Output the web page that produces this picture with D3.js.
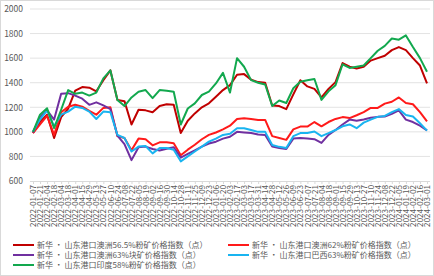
<!DOCTYPE html>
<html>
<head>
<meta charset="utf-8">
<script src="https://cdn.jsdelivr.net/npm/d3@7/dist/d3.min.js"></script>
<style>
  body { margin: 0; background: #fff; }
  svg text { font-family: "Noto Sans CJK SC", "Liberation Sans", sans-serif; fill: #595959; }
</style>
</head>
<body>
<svg id="chart" width="434" height="276"></svg>
<script>
// x categories (every other week)
const dates = [
  '2022-01-07','2022-01-21','2022-02-04','2022-02-18','2022-03-04','2022-03-18','2022-04-01','2022-04-15',
  '2022-04-29','2022-05-13','2022-05-27','2022-06-10','2022-06-24','2022-07-08','2022-07-22','2022-08-05',
  '2022-08-19','2022-09-02','2022-09-16','2022-09-30','2022-10-14','2022-10-28','2022-11-11','2022-11-25',
  '2022-12-09','2022-12-23','2023-01-06','2023-01-20','2023-02-03','2023-02-17','2023-03-03','2023-03-17',
  '2023-03-31','2023-04-14','2023-04-28','2023-05-12','2023-05-26','2023-06-09','2023-06-23','2023-07-07',
  '2023-07-21','2023-08-04','2023-08-18','2023-09-01','2023-09-15','2023-09-29','2023-10-13','2023-10-27',
  '2023-11-10','2023-11-24','2023-12-08','2023-12-22','2024-01-05','2024-01-19','2024-02-02','2024-02-16',
  '2024-03-01'
];

const yTicks = [600, 800, 1000, 1200, 1400, 1600, 1800, 2000];

const au565 = [990,1080,1140,950,1120,1190,1335,1365,1360,1330,1420,1500,1260,1250,1060,1180,
  1175,1160,1210,1225,1220,990,1090,1150,1200,1232,1285,1340,1380,1465,1470,1425,
  1405,1400,1215,1210,1185,1305,1420,1370,1350,1280,1350,1405,1560,1530,1515,1530,
  1580,1600,1620,1665,1690,1665,1600,1540,1394];

const au62 = [990,1060,1130,975,1160,1205,1220,1205,1170,1140,1195,1200,965,950,850,945,
  940,890,915,915,908,810,855,895,940,975,995,1020,1050,1105,1110,1105,
  1097,1097,965,950,935,1020,1043,1043,1080,1045,1080,1105,1120,1112,1135,1160,
  1195,1195,1230,1245,1280,1235,1225,1160,1085];

const au63lump = [995,1120,1175,1100,1310,1315,1295,1270,1220,1240,1215,1185,970,900,770,875,
  880,860,848,862,875,790,820,850,880,905,920,945,960,1000,995,990,
  978,975,880,868,860,945,950,945,940,910,975,1015,1060,1100,1090,1100,
  1115,1122,1124,1146,1175,1100,1080,1050,1012];

const br63 = [1003,1100,1175,1045,1140,1165,1205,1195,1165,1105,1165,1160,975,950,840,880,
  885,825,868,868,855,760,800,840,880,920,945,975,985,1030,1030,1015,
  1000,1000,893,878,868,965,990,990,1003,965,990,1015,1045,1060,1030,1075,
  1100,1122,1130,1160,1185,1138,1125,1070,1010];

const in58 = [1000,1140,1192,1030,1180,1340,1310,1320,1295,1320,1435,1500,1260,1210,1280,1327,
  1340,1275,1340,1335,1327,1060,1190,1232,1300,1327,1394,1480,1320,1600,1530,1421,
  1400,1385,1210,1255,1235,1355,1408,1420,1430,1260,1330,1380,1550,1520,1530,1540,
  1600,1660,1700,1760,1750,1785,1690,1600,1489];

const seriesNames = [
  '新华 · 山东港口澳洲56.5%粉矿价格指数（点）',
  '新华 · 山东港口澳洲62%粉矿价格指数（点）',
  '新华 · 山东港口澳洲63%块矿价格指数（点）',
  '新华 · 山东港口巴西63%粉矿价格指数（点）',
  '新华 · 山东港口印度58%粉矿价格指数（点）'
];
const seriesValues = [au565, au62, au63lump, br63, in58];
const colors = ['#c00000', '#ff1a1a', '#7030a0', '#19b4f0', '#12a84e'];

const svg = d3.select('#chart');

// frame
svg.append('rect')
  .attr('x', 0.5).attr('y', 0.5)
  .attr('width', 433).attr('height', 275)
  .attr('fill', '#fff').attr('stroke', '#d9d9d9');

const x = d3.scalePoint().domain(dates).range([33, 427]);
const y = d3.scaleLinear().domain([600, 2000]).range([181, 9]);

// grid lines
svg.append('g')
  .selectAll('line')
  .data(yTicks.slice(1))
  .join('line')
  .attr('x1', 30).attr('x2', 430)
  .attr('y1', d => y(d)).attr('y2', d => y(d))
  .attr('stroke', '#e3e3e3');

// y axis labels
const yAxis = d3.axisLeft(y).tickValues(yTicks).tickFormat(d3.format('d')).tickSize(0).tickPadding(0);
svg.append('g')
  .attr('transform', 'translate(23,0)')
  .call(yAxis)
  .call(g => g.select('.domain').remove())
  .selectAll('text')
  .attr('font-size', 8.5)
  .style('fill', '#595959');

// x axis
const xAxis = d3.axisBottom(x).tickSize(3).tickPadding(2);
const gx = svg.append('g')
  .attr('transform', `translate(0,${y(600)})`)
  .call(xAxis);
gx.select('.domain').attr('stroke', '#d9d9d9').attr('d', 'M30,0.5H430');
gx.selectAll('.tick line').attr('stroke', '#d9d9d9');
gx.selectAll('.tick text')
  .attr('font-size', 8.2)
  .attr('text-anchor', 'end')
  .attr('dy', '0.32em')
  .attr('transform', 'translate(0,4) rotate(-90)')
  .attr('x', 0).attr('y', 0)
  .style('fill', '#595959');

// lines
const line = d3.line()
  .x((d, i) => x(dates[i]))
  .y(d => y(d));

svg.append('g')
  .selectAll('path')
  .data(seriesValues)
  .join('path')
  .attr('d', line)
  .attr('fill', 'none')
  .attr('stroke', (d, i) => colors[i])
  .attr('stroke-width', 2)
  .attr('stroke-linejoin', 'round');

// legend
const legendPos = [[13, 245], [228, 245], [13, 255], [228, 255], [13, 265]];
const lg = svg.append('g')
  .selectAll('g')
  .data(seriesNames)
  .join('g')
  .attr('transform', (d, i) => `translate(${legendPos[i][0]},${legendPos[i][1]})`);
lg.append('line')
  .attr('x1', 0).attr('x2', 21)
  .attr('stroke', (d, i) => colors[i])
  .attr('stroke-width', 2);
lg.append('text')
  .attr('x', 24).attr('dy', '0.35em')
  .attr('font-size', 8)
  .text(d => d);
</script>
</body>
</html>
